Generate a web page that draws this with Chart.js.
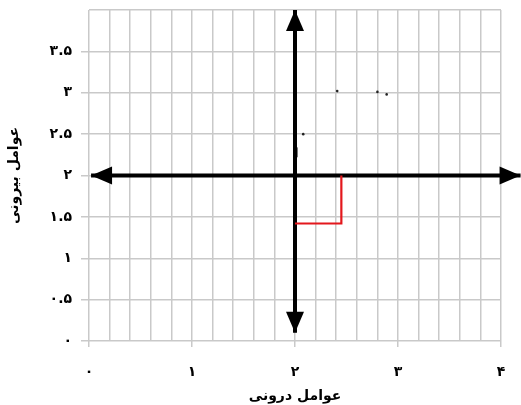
<!DOCTYPE html>
<html>
<head>
<meta charset="utf-8">
<script src="https://cdn.jsdelivr.net/npm/chart.js@4"></script>
<style>
  html, body { margin: 0; padding: 0; background: #fff; }
  #wrap { width: 521px; height: 405px; }
</style>
</head>
<body>
<div id="wrap"><canvas id="myChart" width="521" height="405"></canvas></div>
<script>
// axis lines (thick black arrows)
const hAxisX = [0.02, 4.19];
const hAxisY = [2, 2];
const vAxisX = [2, 2];
const vAxisY = [0.1, 4];
// red path
const redX = [2, 2.45, 2.45];
const redY = [1.42, 1.42, 2];
// small stray marks
const speckX = [2.08, 2.41, 2.8, 2.89];
const speckY = [2.5, 3.02, 3.01, 2.98];
const strokeX = [2.01, 2.01];
const strokeY = [2.22, 2.34];

const xTitle = 'عوامل درونی';
const yTitle = 'عوامل بیرونی';

const faDigits = '۰۱۲۳۴۵۶۷۸۹';
function toFa(v) {
  return String(v).replace(/[0-9]/g, d => faDigits[d]);
}
function isInt(v) { return Math.abs(v - Math.round(v)) < 1e-6; }

function pts(xs, ys) {
  return xs.map((x, i) => ({x: x, y: ys[i]}));
}

// arrowheads at both ends of datasets with arrow: true
const arrowPlugin = {
  id: 'arrows',
  afterDatasetsDraw(chart) {
    const ctx = chart.ctx;
    chart.data.datasets.forEach((ds, i) => {
      if (!ds.arrow) return;
      const p = chart.getDatasetMeta(i).data;
      const ends = [[p[0], p[1]], [p[p.length - 1], p[p.length - 2]]];
      ends.forEach(([tip, prev]) => {
        const ang = Math.atan2(tip.y - prev.y, tip.x - prev.x);
        const len = 21, half = 9;
        ctx.save();
        ctx.translate(tip.x, tip.y);
        ctx.rotate(ang);
        ctx.beginPath();
        ctx.moveTo(0, 0);
        ctx.lineTo(-len, -half);
        ctx.lineTo(-len, half);
        ctx.closePath();
        ctx.fillStyle = '#000';
        ctx.fill();
        ctx.restore();
      });
    });
  }
};

const font = {family: "'DejaVu Sans', sans-serif", size: 14, weight: 'bold'};

const myChart = new Chart(document.getElementById('myChart'), {
  type: 'scatter',
  data: {
    datasets: [
      {data: pts(redX, redY), showLine: true, borderColor: '#e3171c', borderWidth: 2.2, pointRadius: 0, clip: false},
      {data: pts(hAxisX, hAxisY), showLine: true, borderColor: '#000', borderWidth: 4, pointRadius: 0, clip: false, arrow: true},
      {data: pts(vAxisX, vAxisY), showLine: true, borderColor: '#000', borderWidth: 4, pointRadius: 0, clip: false, arrow: true},
      {data: pts(strokeX, strokeY), showLine: true, borderColor: '#000', borderWidth: 3, pointRadius: 0},
      {data: pts(speckX, speckY), showLine: false, backgroundColor: '#222', borderWidth: 0, pointRadius: 1.3}
    ]
  },
  options: {
    responsive: false,
    animation: false,
    layout: {padding: {top: 10, right: 20, left: 0, bottom: 0}},
    plugins: {legend: {display: false}, tooltip: {enabled: false}},
    scales: {
      x: {
        min: 0, max: 4,
        afterFit: s => { s.height = 64; s.paddingLeft = 0; s.paddingRight = 0; },
        border: {display: false},
        grid: {
          color: '#c9c9c9', lineWidth: 1.5, tickLength: 6,
          tickColor: c => isInt(c.tick.value) ? '#c9c9c9' : 'rgba(0,0,0,0)'
        },
        ticks: {
          stepSize: 0.2, autoSkip: false, maxRotation: 0, padding: 17,
          color: '#000', font: font,
          callback: v => isInt(v) ? toFa(Math.round(v)) : ''
        },
        title: {display: true, text: xTitle, color: '#000', font: font, padding: {top: 9, bottom: 0}}
      },
      y: {
        min: 0, max: 4,
        afterFit: s => { s.width = 89; s.paddingTop = 0; s.paddingBottom = 0; },
        border: {display: false},
        grid: {
          color: '#c9c9c9', lineWidth: 1.5, tickLength: 8,
          tickColor: c => c.tick.value < 3.9 ? '#c9c9c9' : 'rgba(0,0,0,0)'
        },
        ticks: {
          stepSize: 0.5, padding: 9, color: '#000', font: font,
          callback: v => v < 3.9 ? toFa(v) : ''
        },
        title: {display: true, text: yTitle, color: '#000', font: font, padding: {top: 6, bottom: 0}}
      }
    }
  },
  plugins: [arrowPlugin]
});
</script>
</body>
</html>
